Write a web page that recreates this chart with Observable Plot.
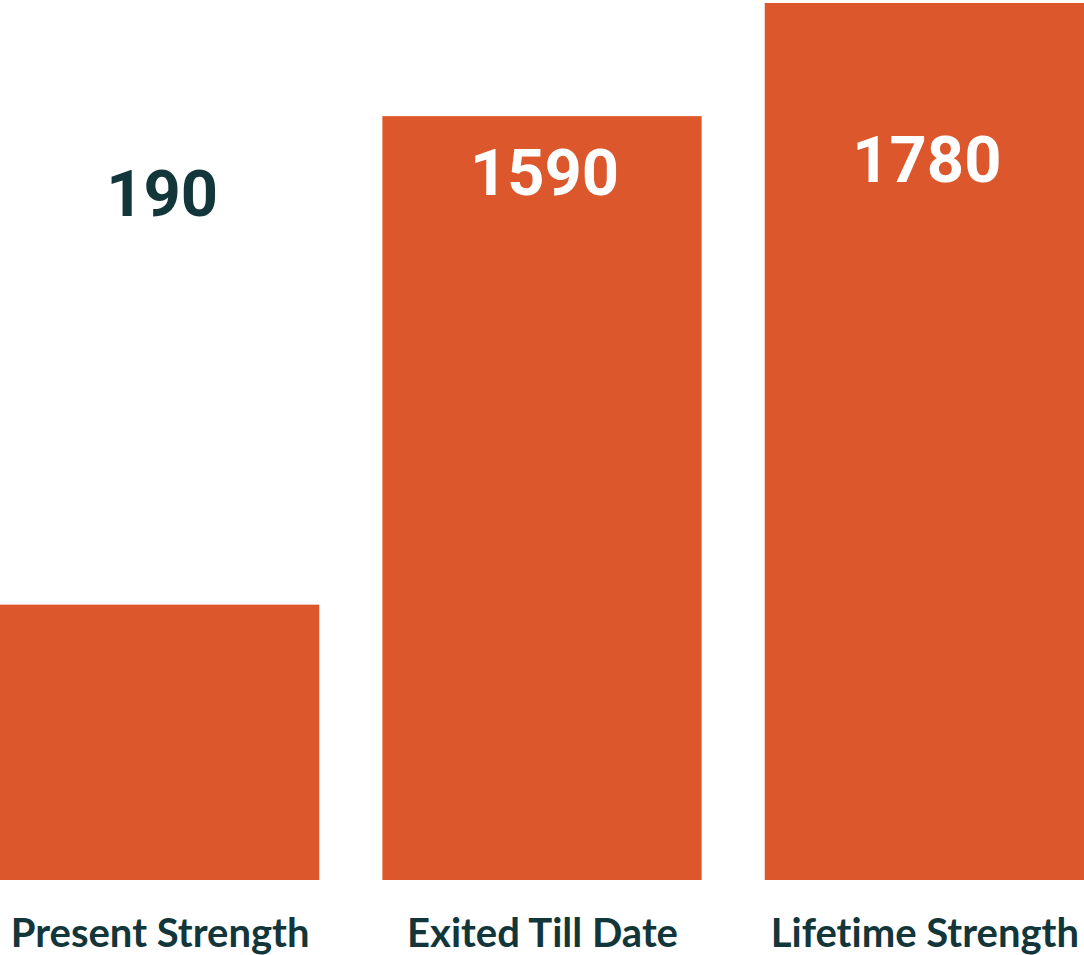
<!DOCTYPE html>
<html>
<head>
<meta charset="utf-8">
<script src="https://cdn.jsdelivr.net/npm/d3@7"></script>
<script src="https://cdn.jsdelivr.net/npm/@observablehq/plot@0.6"></script>
<style>
  html, body { margin: 0; padding: 0; background: #ffffff; }
  #chart svg { display: block; overflow: visible; }
  #chart svg text { font-variant-ligatures: none; font-feature-settings: "liga" 0; }
</style>
</head>
<body>
<div id="chart"></div>
<script>
// Categories and the printed values
const categories = ["Present Strength", "Exited Till Date", "Lifetime Strength"];
const values = [190, 1590, 1780];
// Bar heights as drawn in the picture (percent of the tallest bar; not proportional to the values)
const barHeights = [31.4, 87.1, 100];
// Level (same units) where each value label sits
const labelLevels = [78.4, 80.8, 82.2];

const data = categories.map((c, i) => ({
  category: c,
  value: values[i],
  height: barHeights[i],
  level: labelLevels[i]
}));

const dark = "#12363a";
const orange = "#dc582c";

const chart = Plot.plot({
  width: 1084,
  height: 955,
  marginTop: 3,
  marginBottom: 75,
  marginLeft: 0,
  marginRight: 0,
  x: { domain: categories, paddingInner: 0.165, paddingOuter: 0, round: false, label: null },
  y: { domain: [0, 100], axis: null },
  marks: [
    Plot.barY(data, { x: "category", y: "height", fill: orange }),
    Plot.text(data, {
      x: "category",
      y: "level",
      text: d => String(d.value),
      fill: d => d.height >= d.level ? "#ffffff" : dark,
      fontSize: 65,
      fontWeight: "bold",
      fontFamily: "Roboto",
      dx: 2,
      dy: 2
    }),
    Plot.axisX({
      tickSize: 0,
      tickPadding: 38,
      fontSize: 40,
      fontWeight: "bold",
      fontFamily: "Lato",
      fill: dark,
      label: null
    })
  ]
});
document.getElementById("chart").appendChild(chart);
</script>
</body>
</html>
